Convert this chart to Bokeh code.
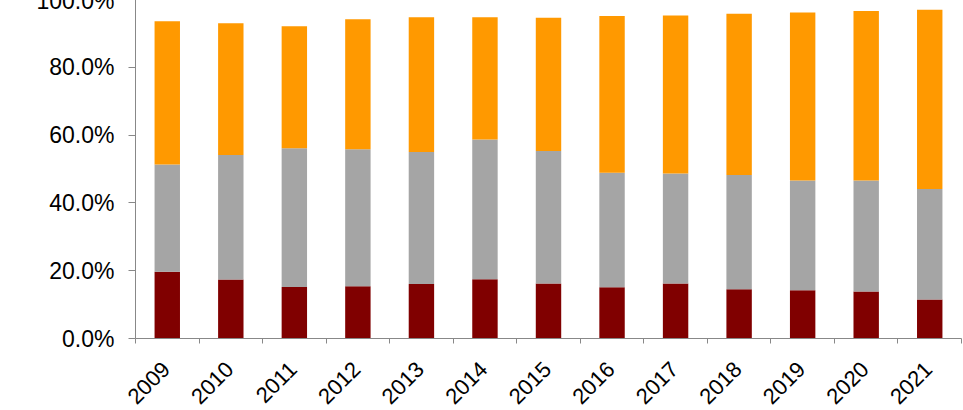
import math
from bokeh.plotting import figure
from bokeh.models import (ColumnDataSource, Range1d, FixedTicker,
                          NumeralTickFormatter)
from bokeh.embed import file_html
from bokeh.resources import INLINE

years = ["2009", "2010", "2011", "2012", "2013", "2014", "2015",
         "2016", "2017", "2018", "2019", "2020", "2021"]
red_share = [0.197, 0.174, 0.152, 0.154, 0.161, 0.175, 0.162,
             0.151, 0.162, 0.145, 0.142, 0.139, 0.115]
gray_share = [0.316, 0.367, 0.409, 0.404, 0.389, 0.412, 0.391,
              0.338, 0.325, 0.337, 0.324, 0.327, 0.326]
orange_share = [0.423, 0.389, 0.360, 0.384, 0.398, 0.361, 0.393,
                0.462, 0.466, 0.476, 0.496, 0.500, 0.529]
y_ticks = [0.0, 0.2, 0.4, 0.6, 0.8, 1.0]

FONT = "Liberation Sans"
AXIS_COLOR = "#888888"

n = len(years)
centers = [i + 0.5 for i in range(n)]
source = ColumnDataSource(dict(x=centers, year=years, red=red_share,
                               gray=gray_share, orange=orange_share))

p = figure(x_range=Range1d(0, n), y_range=Range1d(0, 1.0),
           frame_width=826, frame_height=339,
           min_border_left=135, min_border_right=2,
           min_border_top=12, min_border_bottom=72,
           toolbar_location=None, output_backend="svg")
p.styles = {"margin-top": "-13px"}
p.outline_line_color = None
p.xgrid.visible = False
p.ygrid.visible = False
p.background_fill_color = "white"
p.border_fill_color = "white"

p.vbar_stack(["red", "gray", "orange"], x="x", width=0.4,
             color=["#800000", "#A5A5A5", "#FF9900"], line_color=None,
             source=source)

# y axis
ya = p.yaxis[0]
ya.ticker = FixedTicker(ticks=y_ticks)
ya.formatter = NumeralTickFormatter(format="0.0%")
ya.axis_line_color = AXIS_COLOR
ya.major_tick_line_color = AXIS_COLOR
ya.major_tick_out = 7
ya.major_tick_in = 0
ya.minor_tick_line_color = None
ya.major_label_standoff = 14
ya.major_label_text_font = FONT
ya.major_label_text_font_size = "23px"
ya.major_label_text_color = "#000000"

# x axis: year labels at category centres, tick marks between categories
label_pos = [c - 0.02 for c in centers]
xa = p.xaxis[0]
xa.ticker = FixedTicker(ticks=label_pos, minor_ticks=list(range(n + 1)))
xa.major_label_overrides = {t: y for t, y in zip(label_pos, years)}
xa.axis_line_color = AXIS_COLOR
xa.major_tick_line_color = None
xa.major_tick_out = 0
xa.major_tick_in = 0
xa.minor_tick_line_color = AXIS_COLOR
xa.minor_tick_out = 5
xa.minor_tick_in = 0
xa.major_label_orientation = math.pi / 4
xa.major_label_standoff = 22
xa.major_label_text_font = FONT
xa.major_label_text_font_size = "22px"
xa.major_label_text_color = "#000000"

open("out.html", "w").write(file_html(p, INLINE))
